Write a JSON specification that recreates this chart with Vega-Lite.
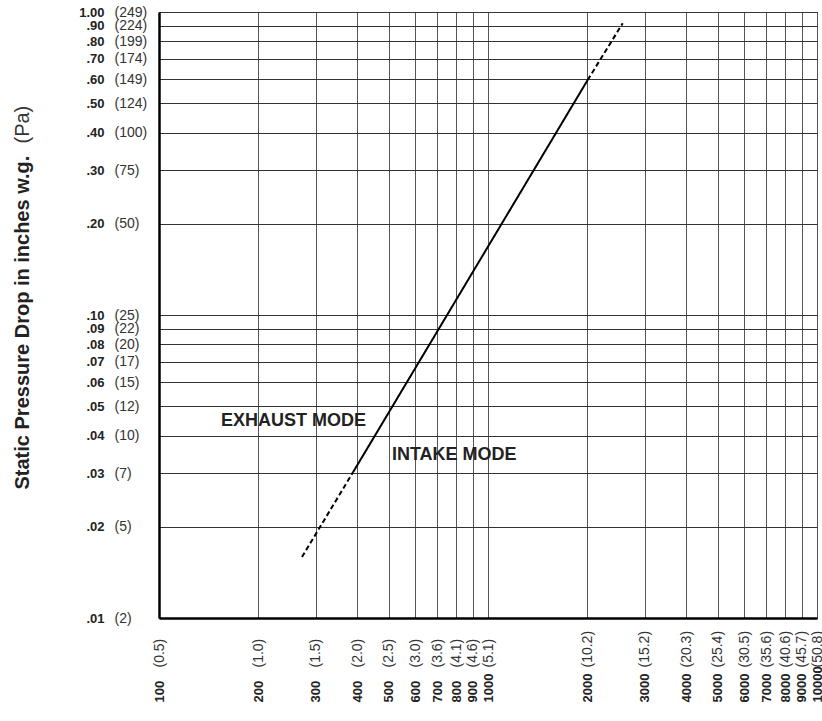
{
  "$schema": "https://vega.github.io/schema/vega-lite/v6.json",
  "width": 658,
  "height": 606,
  "autosize": {"type": "none"},
  "padding": {"left": 159, "top": 12, "right": 5, "bottom": 103},
  "background": "white",
  "config": {
    "view": {"stroke": "#000", "strokeWidth": 1},
    "font": "Liberation Sans"
  },
  "datasets": {
    "curve": [
      {"segment": "lower", "dash": "dashed", "cfm": 272, "sp": 0.0159},
      {"segment": "lower", "dash": "dashed", "cfm": 389, "sp": 0.0303},
      {"segment": "mid", "dash": "solid", "cfm": 389, "sp": 0.0303},
      {"segment": "mid", "dash": "solid", "cfm": 2009, "sp": 0.5965},
      {"segment": "upper", "dash": "dashed", "cfm": 2009, "sp": 0.5965},
      {"segment": "upper", "dash": "dashed", "cfm": 2567, "sp": 0.918}
    ],
    "notes": [
      {"cfm": 154.3, "sp": 0.0447, "label": "EXHAUST MODE"},
      {"cfm": 510.6, "sp": 0.0345, "label": "INTAKE MODE"}
    ]
  },
  "layer": [
    {
      "data": {"name": "curve"},
      "mark": {"type": "line", "color": "#000", "strokeWidth": 2},
      "encoding": {
        "x": {
          "field": "cfm", "type": "quantitative",
          "scale": {"type": "log", "domain": [100, 10000], "nice": false, "zero": false},
          "axis": {
            "orient": "bottom",
            "values": [100, 200, 300, 400, 500, 600, 700, 800, 900, 1000, 2000, 3000, 4000, 5000, 6000, 7000, 8000, 9000, 10000],
            "labelExpr": "format(datum.value, 'd')",
            "title": null,
            "grid": true, "gridColor": "#555", "gridWidth": 1, "gridOpacity": 1,
            "ticks": false, "tickSize": 0,
            "domain": true, "domainColor": "#000", "domainWidth": 2.5,
            "labelAngle": 270, "labelAlign": "left", "labelBaseline": "middle",
            "labelPadding": 84,
            "labelFont": "Liberation Sans", "labelFontSize": 13, "labelFontWeight": "bold", "labelColor": "#222",
            "labelOverlap": false, "labelBound": false, "labelFlush": false
          }
        },
        "y": {
          "field": "sp", "type": "quantitative",
          "scale": {"type": "log", "domain": [0.01, 1], "nice": false, "zero": false},
          "axis": {
            "orient": "left",
            "values": [0.01, 0.02, 0.03, 0.04, 0.05, 0.06, 0.07, 0.08, 0.09, 0.1, 0.2, 0.3, 0.4, 0.5, 0.6, 0.7, 0.8, 0.9, 1],
            "labelExpr": "datum.value >= 1 ? '1.00' : replace(format(datum.value, '.2f'), '0.', '.')",
            "title": "Static Pressure Drop in inches w.g.",
            "titleFont": "Liberation Sans", "titleFontSize": 20, "titleFontWeight": "bold", "titleColor": "#222",
            "titleAngle": 270, "titleAlign": "left", "titleBaseline": "middle",
            "titleX": -137, "titleY": 477,
            "grid": true, "gridColor": "#333", "gridWidth": 1, "gridOpacity": 1,
            "ticks": false, "tickSize": 0,
            "domain": true, "domainColor": "#000", "domainWidth": 2.5,
            "labelAlign": "right", "labelBaseline": "middle",
            "labelPadding": 55,
            "labelFont": "Liberation Sans", "labelFontSize": 13, "labelFontWeight": "bold", "labelColor": "#222",
            "labelOverlap": false, "labelBound": false, "labelFlush": false
          }
        },
        "detail": {"field": "segment", "type": "nominal"},
        "strokeDash": {
          "field": "dash", "type": "nominal",
          "scale": {"domain": ["dashed", "solid"], "range": [[5, 3], [1, 0]]},
          "legend": null
        }
      }
    },
    {
      "data": {"name": "notes"},
      "mark": {"type": "text", "align": "left", "baseline": "middle", "font": "Liberation Sans", "fontSize": 18, "fontWeight": "bold", "color": "#222"},
      "encoding": {
        "x": {
          "field": "cfm", "type": "quantitative",
          "scale": {"type": "log", "domain": [100, 10000], "nice": false, "zero": false},
          "axis": {
            "orient": "bottom",
            "values": [100, 200, 300, 400, 500, 600, 700, 800, 900, 1000, 2000, 3000, 4000, 5000, 6000, 7000, 8000, 9000, 10000],
            "labelExpr": "'(' + format(datum.value * 0.00508, '.1f') + ')'",
            "title": null,
            "grid": false, "ticks": false, "tickSize": 0, "domain": false,
            "labelAngle": 270, "labelAlign": "left", "labelBaseline": "middle",
            "labelPadding": 49,
            "labelFont": "Liberation Sans", "labelFontSize": 14, "labelFontWeight": "normal", "labelColor": "#333",
            "labelOverlap": false, "labelBound": false, "labelFlush": false
          }
        },
        "y": {
          "field": "sp", "type": "quantitative",
          "scale": {"type": "log", "domain": [0.01, 1], "nice": false, "zero": false},
          "axis": {
            "orient": "left",
            "values": [0.01, 0.02, 0.03, 0.04, 0.05, 0.06, 0.07, 0.08, 0.09, 0.1, 0.2, 0.3, 0.4, 0.5, 0.6, 0.7, 0.8, 0.9, 1],
            "labelExpr": "'(' + [2, 5, 7, 10, 12, 15, 17, 20, 22, 25, 50, 75, 100, 124, 149, 174, 199, 224, 249][indexof([0.01, 0.02, 0.03, 0.04, 0.05, 0.06, 0.07, 0.08, 0.09, 0.1, 0.2, 0.3, 0.4, 0.5, 0.6, 0.7, 0.8, 0.9, 1], datum.value)] + ')'",
            "title": "(Pa)",
            "titleFont": "Liberation Sans", "titleFontSize": 20, "titleFontWeight": "normal", "titleColor": "#333",
            "titleAngle": 270, "titleAlign": "left", "titleBaseline": "middle",
            "titleX": -137, "titleY": 131,
            "grid": false, "ticks": false, "tickSize": 0, "domain": false,
            "labelAlign": "left", "labelBaseline": "middle",
            "labelPadding": 45,
            "labelFont": "Liberation Sans", "labelFontSize": 14, "labelFontWeight": "normal", "labelColor": "#333",
            "labelOverlap": false, "labelBound": false, "labelFlush": false
          }
        },
        "text": {"field": "label", "type": "nominal"}
      }
    }
  ],
  "resolve": {
    "scale": {"x": "shared", "y": "shared"},
    "axis": {"x": "independent", "y": "independent"}
  }
}
